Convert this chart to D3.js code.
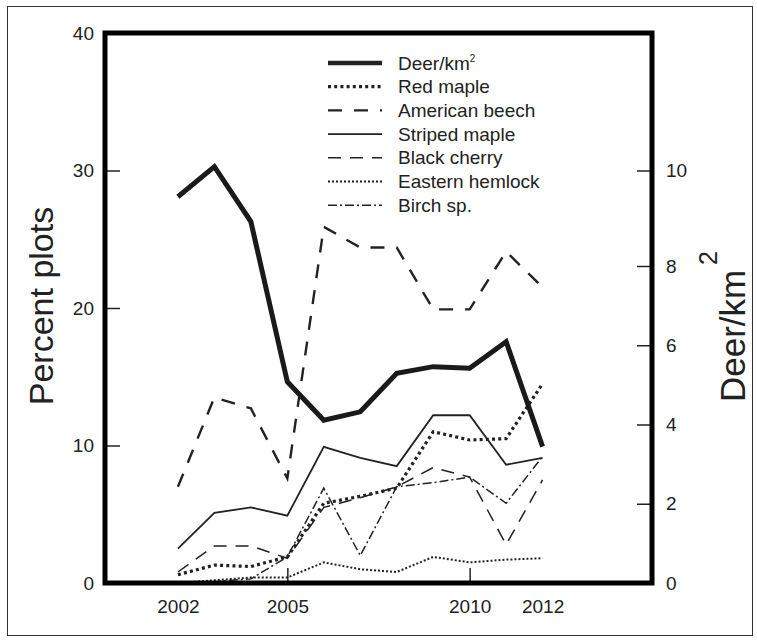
<!DOCTYPE html>
<html>
<head>
<meta charset="utf-8">
<script src="https://cdn.jsdelivr.net/npm/d3@7"></script>
<style>
  body { margin: 0; background: #fff; }
  text { font-family: "Liberation Sans", Arial, sans-serif; fill: #222; }
</style>
</head>
<body>
<div id="chart"></div>
<script>
const years = [2002, 2003, 2004, 2005, 2006, 2007, 2008, 2009, 2010, 2011, 2012];
const deer = [9.45, 10.08, 8.93, 5.08, 4.11, 4.32, 5.29, 5.46, 5.42, 6.09, 3.44];
const redMaple = [0.6, 1.3, 1.2, 1.9, 5.8, 6.3, 6.9, 11.0, 10.4, 10.5, 14.5];
const beech = [7.0, 13.5, 12.7, 7.6, 25.9, 24.4, 24.4, 19.9, 19.9, 24.1, 21.5];
const striped = [2.5, 5.1, 5.5, 4.9, 9.9, 9.1, 8.5, 12.2, 12.2, 8.6, 9.1];
const cherry = [0.8, 2.7, 2.7, 1.8, 5.5, 6.2, 7.0, 8.4, 7.7, 2.8, 7.5];
const hemlock = [0, 0.2, 0.4, 0.4, 1.5, 1.0, 0.8, 1.9, 1.5, 1.7, 1.8];
const birch = [0, 0.1, 0.3, 1.9, 6.9, 2.0, 7.0, 7.3, 7.7, 5.8, 9.2];

const leftTicks = [0, 10, 20, 30, 40];
const rightTicks = [0, 2, 4, 6, 8, 10];
const yearLabels = [2002, 2005, 2010, 2012];
const yearTicks = [2005, 2010];

const width = 757, height = 642;
const margin = { top: 33, right: 105, bottom: 59, left: 105 };
const plotW = width - margin.left - margin.right;
const plotH = height - margin.top - margin.bottom;

const svg = d3.select("#chart").append("svg")
  .attr("width", width)
  .attr("height", height);

// outer border
svg.append("rect")
  .attr("x", 7.5).attr("y", 6.5)
  .attr("width", 745).attr("height", 629)
  .attr("fill", "none")
  .attr("stroke", "#333")
  .attr("stroke-width", 1);

const g = svg.append("g").attr("transform", `translate(${margin.left},${margin.top})`);

const x = d3.scaleLinear().domain([2000, 2015]).range([0, plotW]);
const yL = d3.scaleLinear().domain([0, 40]).range([plotH, 0]);
// right axis in the original is not evenly spaced above 8
const yR = d3.scaleLinear().domain([0, 8, 10]).range([plotH, plotH - 317, yL(30)]);

// axes
const axL = g.append("g")
  .call(d3.axisLeft(yL).tickValues(leftTicks).tickSize(-15).tickPadding(11));
const axR = g.append("g")
  .attr("transform", `translate(${plotW},0)`)
  .call(d3.axisRight(yR).tickValues(rightTicks).tickSize(-15).tickPadding(14));
const axB = g.append("g")
  .attr("transform", `translate(0,${plotH})`)
  .call(d3.axisBottom(x).tickValues(yearLabels).tickFormat(d3.format("d")).tickSize(0).tickPadding(17));
const axBt = g.append("g")
  .attr("transform", `translate(0,${plotH})`)
  .call(d3.axisBottom(x).tickValues(yearTicks).tickFormat("").tickSize(-15));

[axL, axR, axB, axBt].forEach(a => {
  a.select(".domain").remove();
  a.selectAll("line").attr("stroke", "#222").attr("stroke-width", 1.5);
  a.selectAll("text").attr("font-size", 19).attr("fill", "#222")
    .style("font-family", "Liberation Sans, Arial, sans-serif");
});

// series
const series = [
  { name: "Red maple", values: redMaple, axis: yL, w: 3.2, dash: "3 3.2" },
  { name: "American beech", values: beech, axis: yL, w: 2.4, dash: "14 12" },
  { name: "Striped maple", values: striped, axis: yL, w: 1.8, dash: null },
  { name: "Black cherry", values: cherry, axis: yL, w: 1.5, dash: "13 9" },
  { name: "Eastern hemlock", values: hemlock, axis: yL, w: 2, dash: "2 2" },
  { name: "Birch sp.", values: birch, axis: yL, w: 1.5, dash: "9 3 2 3" }
];

series.forEach(s => {
  const line = d3.line().x((d, i) => x(years[i])).y(d => s.axis(d));
  g.append("path")
    .datum(s.values)
    .attr("d", line)
    .attr("fill", "none")
    .attr("stroke", "#222")
    .attr("stroke-width", s.w)
    .attr("stroke-dasharray", s.dash);
});

const deerLine = d3.line().x((d, i) => x(years[i])).y(d => yR(d));
g.append("path")
  .datum(deer)
  .attr("d", deerLine)
  .attr("fill", "none")
  .attr("stroke", "#1a1a1a")
  .attr("stroke-width", 5);

// plot frame
g.append("rect")
  .attr("width", plotW).attr("height", plotH)
  .attr("fill", "none")
  .attr("stroke", "#000")
  .attr("stroke-width", 5);

// legend
const legendItems = [{ name: "Deer/km", w: 4.5, dash: null }].concat(series);
const lg = svg.append("g").attr("transform", "translate(328,63)");
legendItems.forEach((s, i) => {
  const row = lg.append("g").attr("transform", `translate(0,${i * 23.7})`);
  row.append("line")
    .attr("x1", 0).attr("x2", 54)
    .attr("stroke", "#222")
    .attr("stroke-width", s.w)
    .attr("stroke-dasharray", s.dash);
  const t = row.append("text")
    .attr("x", 70).attr("dy", "0.35em")
    .attr("font-size", 19)
    .text(s.name);
  if (i === 0) {
    t.append("tspan").attr("dy", "-0.75em").attr("font-size", 10).text("2");
  }
});

// axis titles
svg.append("text")
  .attr("transform", "translate(53,306) rotate(-90)")
  .attr("text-anchor", "middle")
  .attr("font-size", 34)
  .text("Percent plots");

svg.append("text")
  .attr("transform", "translate(745,402) rotate(-90)")
  .attr("text-anchor", "start")
  .attr("font-size", 35)
  .text("Deer/km");
svg.append("text")
  .attr("transform", "translate(717,258) rotate(-90)")
  .attr("text-anchor", "middle")
  .attr("font-size", 25)
  .text("2");
</script>
</body>
</html>
